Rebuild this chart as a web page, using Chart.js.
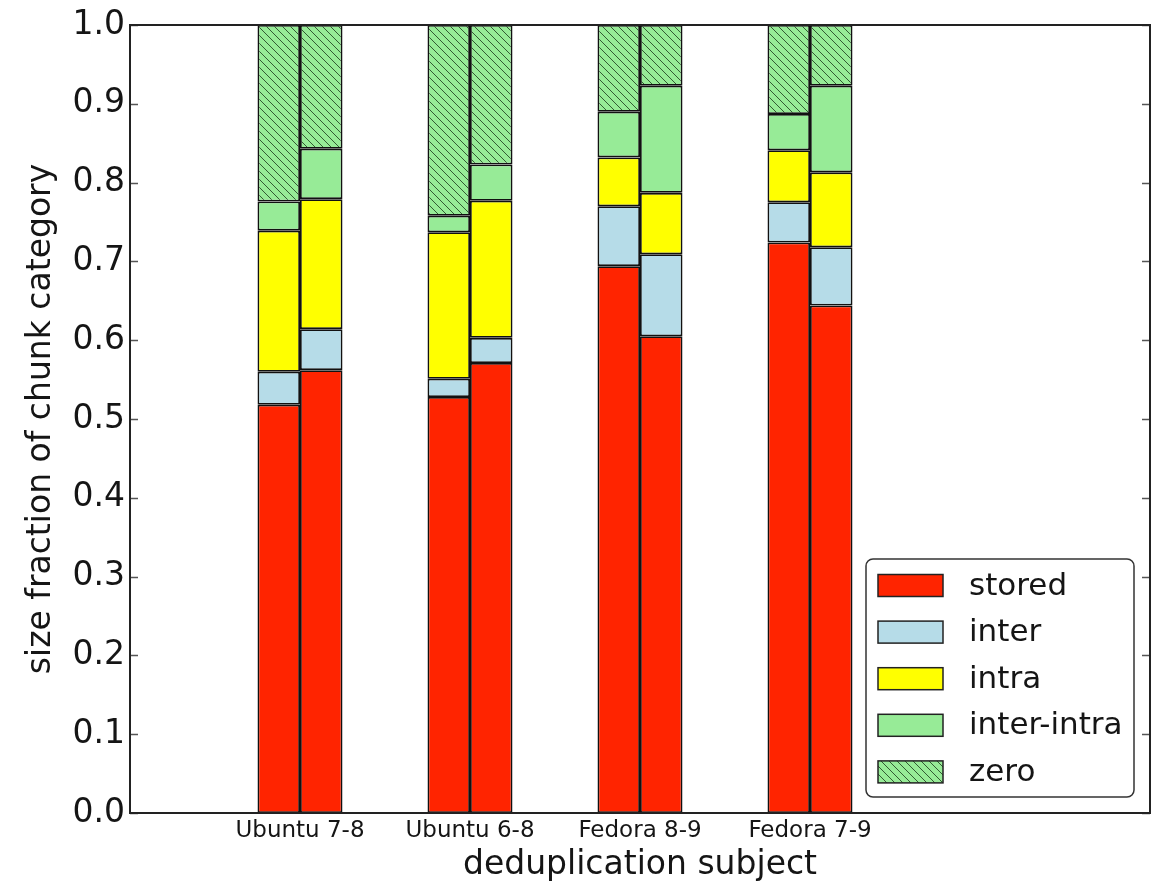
<!DOCTYPE html>
<html>
<head>
<meta charset="utf-8">
<script src="https://cdn.jsdelivr.net/npm/chart.js@4/dist/chart.umd.min.js"></script>
<style>
  html, body { margin: 0; padding: 0; background: #fff; }
  #wrap { width: 1160px; height: 884px; position: relative; }
</style>
</head>
<body>
<div id="wrap"><canvas id="c"></canvas></div>
<script>
// ---- data ----
const subjects = ['Ubuntu 7-8', 'Ubuntu 6-8', 'Fedora 8-9', 'Fedora 7-9'];
const seriesNames = ['stored', 'inter', 'intra', 'inter-intra', 'zero'];
// left bar of each pair
const storedA     = [0.518, 0.528, 0.694, 0.724];
const interA      = [0.042, 0.023, 0.076, 0.051];
const intraA      = [0.179, 0.186, 0.062, 0.066];
const interIntraA = [0.037, 0.021, 0.058, 0.046];
const zeroA       = [0.224, 0.242, 0.110, 0.113];
// right bar of each pair
const storedB     = [0.562, 0.571, 0.605, 0.644];
const interB      = [0.052, 0.032, 0.104, 0.074];
const intraB      = [0.165, 0.174, 0.078, 0.095];
const interIntraB = [0.064, 0.046, 0.136, 0.110];
const zeroB       = [0.157, 0.177, 0.077, 0.077];
const yTickLabels = ['0.0','0.1','0.2','0.3','0.4','0.5','0.6','0.7','0.8','0.9','1.0'];

// ---- styling ----
const FONT = "'DejaVu Sans', 'Liberation Sans', sans-serif";
const TEXT = '#151515';
function hatch(bg) {
  const s = 8;
  const c = document.createElement('canvas');
  c.width = s; c.height = s;
  const g = c.getContext('2d');
  g.fillStyle = bg; g.fillRect(0, 0, s, s);
  g.strokeStyle = 'rgba(25,55,25,0.8)';
  g.lineWidth = 1;
  g.beginPath();
  g.moveTo(-1, -1); g.lineTo(s + 1, s + 1);
  g.moveTo(-1 - s, -1); g.lineTo(1, s + 1);
  g.moveTo(s - 1, -1); g.lineTo(2 * s + 1, s + 1);
  g.stroke();
  return g.createPattern(c, 'repeat');
}
const colors = ['#ff2400', '#b6dce8', '#ffff00', '#97eb97', hatch('#97eb97')];

// categories on x: empty slots make the axis run 0..6 with groups at 1..4
const xLabels = [''].concat(subjects, ['', '']);
function place(arr) { return [null].concat(arr, [null, null]); }

const seriesA = [storedA, interA, intraA, interIntraA, zeroA];
const seriesB = [storedB, interB, intraB, interIntraB, zeroB];
const datasets = [];
seriesNames.forEach((name, i) => {
  [['L', seriesA[i]], ['R', seriesB[i]]].forEach(([stk, arr]) => {
    datasets.push({
      label: name,
      stack: stk,
      data: place(arr),
      backgroundColor: colors[i],
      borderColor: '#111',
      borderWidth: 1.8,
      borderSkipped: false,
      categoryPercentage: 0.5,
      barPercentage: 1.0
    });
  });
});

// frame + inward tick marks
const framePlugin = {
  id: 'frame',
  afterDatasetsDraw(chart) {
    const {ctx, chartArea: a, scales: {y}} = chart;
    ctx.save();
    ctx.strokeStyle = '#555';
    ctx.lineWidth = 1.5;
    y.ticks.forEach((t, i) => {
      const py = Math.round(y.getPixelForTick(i)) + 0.5;
      ctx.beginPath();
      ctx.moveTo(a.left, py); ctx.lineTo(a.left + 8, py);
      ctx.moveTo(a.right - 8, py); ctx.lineTo(a.right, py);
      ctx.stroke();
    });
    ctx.strokeStyle = '#222';
    ctx.lineWidth = 2;
    ctx.strokeRect(a.left, a.top, a.right - a.left, a.bottom - a.top);
    ctx.restore();
  }
};

// legend drawn inside the plot area (lower right)
const legendPlugin = {
  id: 'innerLegend',
  afterDraw(chart) {
    const {ctx, chartArea: a} = chart;
    const items = chart.data.datasets.filter(d => d.stack === 'L');
    const w = 268, rowH = 46.6, h = 238;
    const x0 = a.right - 16 - w, y0 = a.bottom - 16 - h;
    ctx.save();
    ctx.fillStyle = '#fff';
    ctx.strokeStyle = '#333';
    ctx.lineWidth = 1.5;
    ctx.beginPath();
    ctx.roundRect(x0, y0, w, h, 7);
    ctx.fill(); ctx.stroke();
    ctx.font = '31px ' + FONT;
    ctx.textBaseline = 'middle';
    ctx.textAlign = 'left';
    items.forEach((d, i) => {
      const cy = y0 + 26.5 + i * rowH;
      ctx.fillStyle = d.backgroundColor;
      ctx.fillRect(x0 + 12, cy - 11, 65, 22);
      ctx.strokeStyle = '#222';
      ctx.lineWidth = 1.5;
      ctx.strokeRect(x0 + 12, cy - 11, 65, 22);
      ctx.fillStyle = TEXT;
      ctx.fillText(d.label, x0 + 103, cy + 1);
    });
    ctx.restore();
  }
};

new Chart(document.getElementById('c'), {
  type: 'bar',
  data: { labels: xLabels, datasets },
  options: {
    responsive: true,
    maintainAspectRatio: false,
    animation: false,
    layout: { padding: { top: 25, right: 10, left: 0, bottom: 0 } },
    plugins: { legend: { display: false }, tooltip: { enabled: false } },
    scales: {
      x: {
        stacked: true,
        offset: false,
        grid: { display: false, drawTicks: false },
        border: { display: false },
        ticks: {
          autoSkip: false, maxRotation: 0, minRotation: 0,
          padding: 4,
          color: TEXT,
          font: { family: FONT, size: 23 }
        },
        title: {
          display: true,
          text: 'deduplication subject',
          color: TEXT,
          font: { family: FONT, size: 33, lineHeight: 1.0 },
          padding: { top: 0, bottom: 2 }
        },
        afterFit(s) { s.height = 71; }
      },
      y: {
        stacked: true,
        min: 0, max: 1,
        grid: { display: false, drawTicks: false },
        border: { display: false },
        ticks: {
          stepSize: 0.1,
          padding: 5,
          color: TEXT,
          font: { family: FONT, size: 33 },
          callback: (v, i) => yTickLabels[i]
        },
        title: {
          display: true,
          text: 'size fraction of chunk category',
          color: TEXT,
          font: { family: FONT, size: 33, lineHeight: 1.2 },
          padding: { top: 22, bottom: 0 }
        },
        afterFit(s) { s.width = 130; }
      }
    }
  },
  plugins: [framePlugin, legendPlugin]
});
</script>
</body>
</html>
